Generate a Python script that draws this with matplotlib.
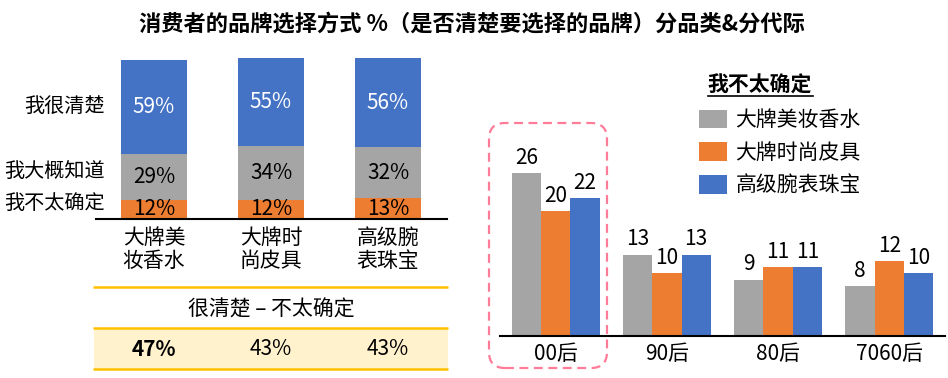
import numpy as np
import matplotlib
matplotlib.use('Agg')
import matplotlib.pyplot as plt
from matplotlib.patches import FancyBboxPatch
from matplotlib.lines import Line2D
from matplotlib.transforms import IdentityTransform

plt.rcParams['font.family'] = ['Noto Sans CJK SC', 'DejaVu Sans']

# 左侧：品类 × 选择方式 (%)
categories = ['大牌美\n妆香水', '大牌时\n尚皮具', '高级腕\n表珠宝']
not_sure = [12, 12, 13]
roughly = [29, 34, 32]
very_clear = [59, 55, 56]
row_labels = ['我很清楚', '我大概知道', '我不太确定']
diff_header = '很清楚 – 不太确定'
diff_values = ['47%', '43%', '43%']

# 右侧：我不太确定 分代际
generations = ['00后', '90后', '80后', '7060后']
beauty = [26, 13, 9, 8]
fashion = [20, 10, 11, 12]
jewelry = [22, 13, 11, 10]
series_names = ['大牌美妆香水', '大牌时尚皮具', '高级腕表珠宝']

GRAY = '#A5A5A5'
ORANGE = '#ED7D31'
BLUE = '#4472C4'
YELLOW = '#FFC000'
LIGHT_YELLOW = '#FFF2CC'

W, H = 948, 378
fig = plt.figure(figsize=(W / 100, H / 100), dpi=100)
FS = 15


def px_axes(x0, y_top, x1, y_bottom):
    # 像素坐标 -> figure 坐标
    return fig.add_axes([x0 / W, 1 - y_bottom / H, (x1 - x0) / W, (y_bottom - y_top) / H])


fig.text(472 / W, 1 - 24 / H, '消费者的品牌选择方式 %（是否清楚要选择的品牌）分品类&分代际',
         ha='center', va='center', fontsize=16, fontweight='bold')

# ---- 左侧堆叠柱状图 ----
ax1 = px_axes(95.5, 58, 446.5, 219)
x = np.arange(len(categories))
bw = 0.565
ax1.bar(x, not_sure, bw, color=ORANGE)
ax1.bar(x, roughly, bw, bottom=not_sure, color=GRAY)
b2 = np.array(not_sure) + np.array(roughly)
ax1.bar(x, very_clear, bw, bottom=b2, color=BLUE)
for i in range(len(categories)):
    ax1.text(x[i], not_sure[i] / 2, f'{not_sure[i]}%', ha='center', va='center', fontsize=FS)
    ax1.text(x[i], not_sure[i] + roughly[i] / 2, f'{roughly[i]}%', ha='center', va='center', fontsize=FS)
    ax1.text(x[i], b2[i] + very_clear[i] / 2, f'{very_clear[i]}%', ha='center', va='center',
             fontsize=FS, color='white')
ax1.set_xlim(-0.5, 2.5)
ax1.set_ylim(0, 101)
for s in ['top', 'right', 'left']:
    ax1.spines[s].set_visible(False)
ax1.spines['bottom'].set_linewidth(1.5)
ax1.set_yticks([])
ax1.set_xticks(x)
ax1.set_xticklabels(categories, fontsize=FS, linespacing=1.05)
ax1.tick_params(axis='x', length=0, pad=6)

for lab, yy in zip(row_labels, [70.5, 29.5, 10]):
    ax1.text(-0.42, yy, lab, ha='right', va='center', fontsize=14.5, clip_on=False)

# ---- 下方差值表 ----
axt = px_axes(95.5, 287, 446.5, 369)
axt.set_xlim(-0.5, 2.5)
axt.set_ylim(0, 2)
axt.axis('off')
axt.axhspan(0, 1, xmin=-0.005, xmax=1.005, color=LIGHT_YELLOW, lw=0, clip_on=False)
for yy in [0, 1, 2]:
    axt.plot([-0.52, 2.515], [yy, yy], color=YELLOW, lw=1.8, clip_on=False, solid_capstyle='butt')
axt.text(1, 1.44, diff_header, ha='center', va='center', fontsize=FS)
for i, v in enumerate(diff_values):
    axt.text(x[i], 0.48, v, ha='center', va='center', fontsize=FS,
             fontweight='bold' if i == 0 else 'normal')

# ---- 右侧分组柱状图 ----
ax2 = px_axes(500, 148, 945, 336)
g = np.arange(len(generations))
gw = 0.264
bars = []
for k, (vals, c) in enumerate(zip([beauty, fashion, jewelry], [GRAY, ORANGE, BLUE])):
    bc = ax2.bar(g + (k - 1) * gw, vals, gw, color=c, label=series_names[k])
    bars.append(bc)
    for rect, v in zip(bc, vals):
        ax2.annotate(str(v), (rect.get_x() + rect.get_width() / 2, v), xytext=(0, 3),
                     textcoords='offset points', ha='center', va='bottom', fontsize=FS)
ax2.set_xlim(-0.5, 3.5)
ax2.set_ylim(0, 30)
for s in ['top', 'right', 'left']:
    ax2.spines[s].set_visible(False)
ax2.spines['bottom'].set_linewidth(1.5)
ax2.set_yticks([])
ax2.set_xticks(g)
ax2.set_xticklabels(generations, fontsize=FS)
ax2.tick_params(axis='x', length=0, pad=5)

leg = fig.legend(handles=bars, loc='upper left', bbox_to_anchor=(699 / W, 1 - 109 / H),
                 frameon=False, fontsize=FS, handlelength=1.35, handleheight=1.0,
                 handletextpad=0.4, labelspacing=0.52, borderpad=0, borderaxespad=0)

fig.text(760 / W, 1 - 85 / H, '我不太确定', ha='center', va='center', fontsize=FS, fontweight='bold')
fig.add_artist(Line2D([708 / W, 813 / W], [1 - 96 / H, 1 - 96 / H], color='black', lw=1.2,
                      transform=fig.transFigure))

box = FancyBboxPatch((489, H - 368), 118, 245, boxstyle='round,pad=0,rounding_size=16',
                     transform=IdentityTransform(), fill=False, edgecolor='#FF7C99',
                     linestyle=(0, (4, 2.5)), lw=1.6)
fig.add_artist(box)

fig.savefig('out.png', dpi=100)
